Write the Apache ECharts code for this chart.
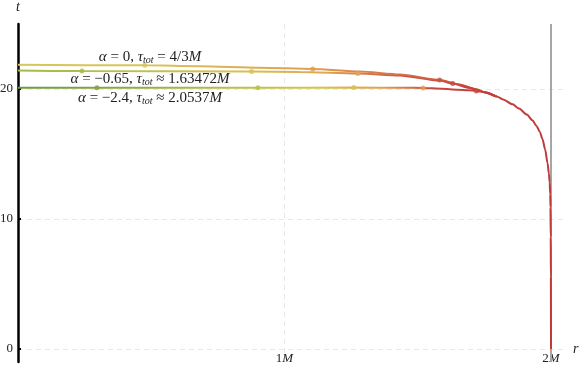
<!DOCTYPE html>
<html>
<head>
    <meta charset="utf-8">
    <title>infall</title>
    <script src="https://cdn.jsdelivr.net/npm/echarts@6/dist/echarts.min.js"></script>
</head>
<body style="margin:0">
    <div id="main" style="width:581px;height:371px;"></div>
    <script type="text/javascript">
        var myChart = echarts.init(document.getElementById('main'));

        /* ---------- data (r in M, t) ---------- */
        // alpha = 0
        var rTop = [0, 0.476, 0.682, 0.907, 1.106, 1.282, 1.432, 1.582, 1.657, 1.721];
        var tTop = [21.86, 21.82, 21.75, 21.64, 21.54, 21.35, 21.12, 20.69, 20.35, 19.96];
        // alpha = -0.65
        var rMid = [0, 0.24, 0.877, 1.057, 1.275, 1.432, 1.582, 1.631, 1.695, 1.721];
        var tMid = [21.42, 21.38, 21.35, 21.31, 21.19, 21.04, 20.65, 20.42, 20.08, 19.95];
        // alpha = -2.4
        var rLow = [0, 0.3, 0.9, 1.26, 1.45, 1.52, 1.59, 1.65, 1.69, 1.721];
        var tLow = [20.1, 20.1, 20.1, 20.11, 20.1, 20.08, 20.02, 19.95, 19.9, 19.85];
        // common part near the horizon
        var rTail = [1.75, 1.796, 1.82, 1.856, 1.88, 1.909, 1.93, 1.946, 1.958, 1.968, 1.978, 1.987,
            1.992, 1.995, 1.997, 1.998, 1.999, 1.9995, 2.0];
        var tTail = [19.75, 19.42, 19.2, 18.82, 18.5, 18.03, 17.6, 17.15, 16.7, 16.15, 15.35, 14.3,
            13.5, 12.8, 11.9, 10.9, 8.6, 5.5, 0];

        // marker dots
        var dotsTop = [[0.476, 21.82], [1.106, 21.54], [1.582, 20.69]];
        var dotsMid = [[0.24, 21.38], [0.877, 21.35], [1.275, 21.19], [1.631, 20.42]];
        var dotsLow = [[0.296, 20.1], [0.9, 20.1], [1.26, 20.11], [1.52, 20.08], [1.72, 19.85]];
        var colTop = ['#d8c45a', '#e0a04c', '#c9503f'];
        var colMid = ['#a9ba48', '#d4c44e', '#e0a850', '#c54a3e'];
        var colLow = ['#7ea040', '#b8c048', '#d6c448', '#e0a050', '#c8483e'];

        var horizon = [[2, -1], [2, 25]];

        var labels = [
            '{i|α} = 0, {i|τ}{s|tot} = 4/3{i|M}',
            '{i|α} = −0.65, {i|τ}{s|tot} ≈ 1.63472{i|M}',
            '{i|α} = −2.4, {i|τ}{s|tot} ≈ 2.0537{i|M}'
        ];

        // curve = own part + (part of) the common tail
        function curve(r, t, nTail) {
            var out = [];
            for (var i = 0; i < r.length; i++) out.push([r[i], t[i]]);
            for (var j = 0; j < nTail; j++) out.push([rTail[j], tTail[j]]);
            return out;
        }
        function dots(pts, cols) {
            return pts.map(function (p, i) {
                return { value: p, itemStyle: { color: cols[i] } };
            });
        }
        function grad(stops) {
            return {
                type: 'linear', x: 0, y: 0, x2: 1, y2: 0,
                colorStops: stops.map(function (s) { return { offset: s[0], color: s[1] }; })
            };
        }

        var serif = 'Liberation Serif';
        var rich = {
            i: { fontStyle: 'italic', fontFamily: serif, fontSize: 15, color: '#222', lineHeight: 17 },
            s: { fontStyle: 'italic', fontFamily: serif, fontSize: 10, color: '#222', verticalAlign: 'bottom', lineHeight: 10 }
        };

        var option = {
            animation: false,
            backgroundColor: '#fff',
            grid: { left: 18, right: 14, top: 24, bottom: 9, outerBoundsMode: 'none' },
            xAxis: {
                type: 'value',
                min: 0,
                max: 2.06,
                name: 'r',
                nameLocation: 'end',
                nameGap: 6,
                nameTextStyle: { fontFamily: serif, fontStyle: 'italic', fontSize: 14, color: '#222', padding: [0, 0, 28, 0] },
                axisLine: { show: false },
                axisTick: { show: false, customValues: [1, 2] },
                axisLabel: {
                    customValues: [1, 2],
                    margin: -10,
                    fontFamily: serif,
                    fontSize: 13,
                    color: '#222',
                    formatter: function (v) { return v + '{i|M}'; },
                    rich: { i: { fontStyle: 'italic', fontFamily: serif, fontSize: 13, color: '#222' } }
                },
                splitLine: { show: true, lineStyle: { type: [5, 4], color: '#e8e8e8', width: 1 } }
            },
            yAxis: {
                type: 'value',
                min: -1,
                max: 25,
                name: 't',
                nameLocation: 'end',
                nameGap: 10,
                nameTextStyle: { fontFamily: serif, fontStyle: 'italic', fontSize: 14, color: '#222' },
                axisLine: { show: true, lineStyle: { color: '#000', width: 2.5 } },
                axisTick: { show: true, inside: true, length: 3, lineStyle: { color: '#000', width: 2 }, customValues: [0, 10, 20] },
                axisLabel: { customValues: [0, 10, 20], margin: 5, fontFamily: serif, fontSize: 13, color: '#222' },
                splitLine: { show: true, lineStyle: { type: [5, 4], color: '#e8e8e8', width: 1 } }
            },
            graphic: labels.map(function (txt, k) {
                return {
                    type: 'text',
                    x: 150,
                    y: [57, 79, 98][k],
                    z: 100,
                    style: {
                        text: txt,
                        rich: rich,
                        fontFamily: serif,
                        fontSize: 15,
                        fill: '#222',
                        align: 'center',
                        verticalAlign: 'middle'
                    }
                };
            }),
            series: [
                {
                    type: 'line',
                    data: horizon,
                    symbol: 'none',
                    z: 1,
                    lineStyle: { color: '#a6a6a6', width: 2 }
                },
                {
                    name: 'alpha -2.4',
                    type: 'line',
                    data: curve(rLow, tLow, 2),
                    symbol: 'none',
                    smooth: 0.25,
                    smoothMonotone: 'x',
                    z: 2,
                    lineStyle: {
                        width: 2,
                        color: grad([[0, '#6e9a3c'], [0.15, '#80a240'], [0.45, '#b8c048'], [0.63, '#d6c448'],
                            [0.76, '#e0a050'], [0.86, '#c8483e'], [1, '#c0393b']])
                    }
                },
                {
                    name: 'alpha -0.65',
                    type: 'line',
                    data: curve(rMid, tMid, 2),
                    symbol: 'none',
                    smooth: 0.25,
                    smoothMonotone: 'x',
                    z: 3,
                    lineStyle: {
                        width: 2,
                        color: grad([[0, '#a8b848'], [0.12, '#b0bc4a'], [0.44, '#d4c450'], [0.64, '#e0a850'],
                            [0.815, '#c8483e'], [1, '#c0393b']])
                    }
                },
                {
                    name: 'alpha 0',
                    type: 'line',
                    data: curve(rTop, tTop, rTail.length),
                    symbol: 'none',
                    smooth: 0.25,
                    smoothMonotone: 'x',
                    z: 4,
                    lineStyle: {
                        width: 2,
                        color: grad([[0, '#d6c65a'], [0.24, '#d8c45a'], [0.55, '#e0a050'], [0.79, '#cc5a42'],
                            [0.86, '#c2403a'], [1, '#c0393b']])
                    }
                },
                { type: 'scatter', data: dots(dotsLow, colLow), symbolSize: 5, z: 5 },
                { type: 'scatter', data: dots(dotsMid, colMid), symbolSize: 5, z: 5 },
                { type: 'scatter', data: dots(dotsTop, colTop), symbolSize: 5, z: 5 }
            ]
        };
        myChart.setOption(option);
    </script>
</body>
</html>
